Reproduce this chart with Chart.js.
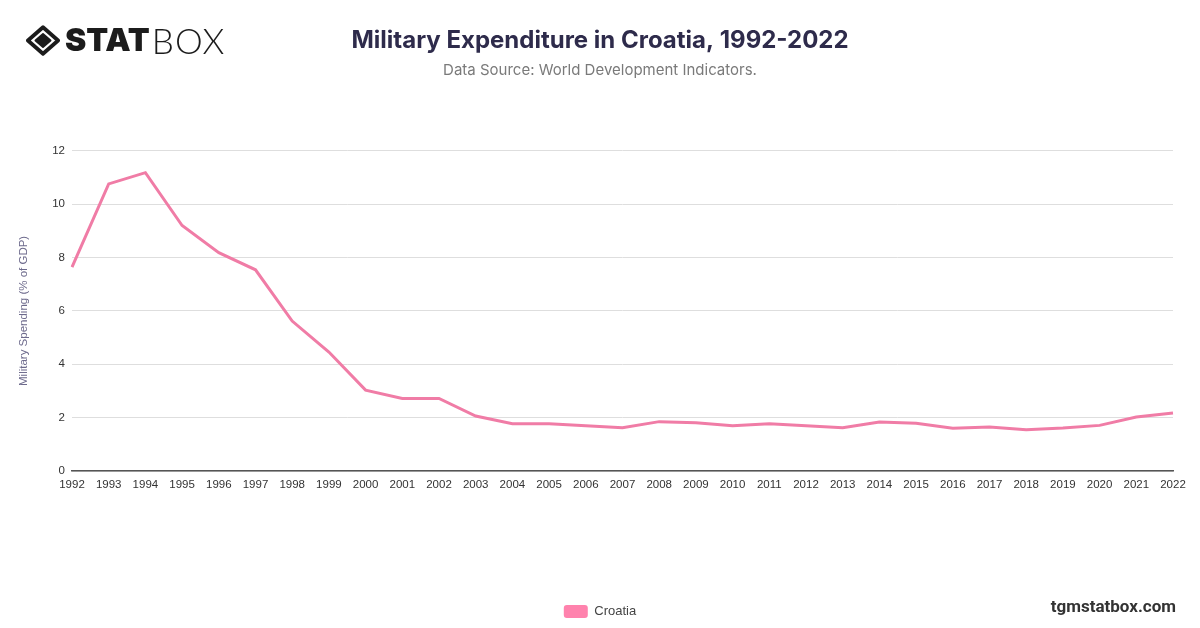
<!DOCTYPE html>
<html>
<head>
<meta charset="utf-8">
<script src="https://cdn.jsdelivr.net/npm/chart.js@4.4.1/dist/chart.umd.min.js"></script>
<style>
  html, body { margin: 0; padding: 0; background: #fff; }
  #wrap { position: relative; width: 1200px; height: 628px; }
  #logo { position: absolute; left: 26px; top: 23px; display: flex; align-items: center; }
  #logo .stat { font-family: Inter, "DejaVu Sans", sans-serif; font-weight: 900; font-size: 32px; color: #1c1c1c; margin-left: 5px; line-height: 34px; }
  #logo .box { font-family: Lato, "Open Sans", sans-serif; font-weight: 300; font-size: 35px; letter-spacing: 1px; color: #1c1c1c; line-height: 34px; margin-left: 2px; }
  #site { position: absolute; right: 24px; top: 596px; font-family: Roboto, Arial, sans-serif; font-weight: 700; font-size: 17px; color: #333; }
</style>
</head>
<body>
<div id="wrap">
  <canvas id="chart" width="1200" height="628"></canvas>
  <div id="logo">
    <svg width="34" height="31" viewBox="0 0 36 32">
      <path d="M18 2 L34 16 L18 30 L2 16 Z" fill="none" stroke="#1c1c1c" stroke-width="4" stroke-linejoin="round"/>
      <path d="M18 9 L26 16 L18 23 L10 16 Z" fill="#1c1c1c" stroke="#1c1c1c" stroke-width="2" stroke-linejoin="round"/>
    </svg>
    <span class="stat">STAT</span><span class="box">BOX</span>
  </div>
  <div id="site">tgmstatbox.com</div>
</div>
<script>
const years = [
  '1992', '1993', '1994', '1995', '1996', '1997', '1998', '1999', '2000', '2001',
  '2002', '2003', '2004', '2005', '2006', '2007', '2008', '2009', '2010', '2011',
  '2012', '2013', '2014', '2015', '2016', '2017', '2018', '2019', '2020', '2021', '2022'
];

// Military spending, % of GDP
const croatia = [
  7.64, 10.76, 11.18, 9.20, 8.18, 7.54, 5.62, 4.46, 3.03, 2.72,
  2.72, 2.06, 1.77, 1.77, 1.70, 1.62, 1.85, 1.81, 1.70, 1.77,
  1.70, 1.62, 1.84, 1.79, 1.60, 1.65, 1.55, 1.61, 1.71, 2.02, 2.17
];

const yTicks = [0, 2, 4, 6, 8, 10, 12];

const LINE_COLOR = '#f07ca6';
const LEGEND_COLOR = '#ff82ad';
const TICK_FONT = 'Helvetica, Arial, "Liberation Sans", sans-serif';

const ctx = document.getElementById('chart').getContext('2d');

new Chart(ctx, {
  type: 'line',
  data: {
    labels: years,
    datasets: [{
      label: 'Croatia',
      data: croatia,
      borderColor: LINE_COLOR,
      backgroundColor: LEGEND_COLOR,
      borderWidth: 3,
      pointRadius: 0,
      tension: 0
    }]
  },
  options: {
    responsive: false,
    animation: false,
    layout: {
      padding: { left: 0, right: 0, top: 0, bottom: 0 }
    },
    plugins: {
      title: {
        display: true,
        text: 'Military Expenditure in Croatia, 1992-2022',
        color: '#2e2b4b',
        font: { family: 'Inter, "Open Sans", sans-serif', size: 24, weight: 'bold' },
        padding: { top: 26, bottom: 7 }
      },
      subtitle: {
        display: true,
        text: 'Data Source: World Development Indicators.',
        color: '#7a7a7a',
        font: { family: 'Inter, "Open Sans", sans-serif', size: 15 },
        padding: { top: 0, bottom: 71 }
      },
      legend: {
        position: 'bottom',
        labels: {
          color: '#444',
          font: { family: TICK_FONT, size: 13 },
          boxWidth: 24,
          boxHeight: 13,
          useBorderRadius: true,
          borderRadius: 3,
          padding: 10,
          generateLabels: (chart) => {
            const items = Chart.defaults.plugins.legend.labels.generateLabels(chart);
            items.forEach(it => { it.lineWidth = 0; it.strokeStyle = LEGEND_COLOR; });
            return items;
          }
        }
      },
      tooltip: { enabled: false }
    },
    scales: {
      x: {
        offset: false,
        grid: { display: false, drawTicks: false },
        border: { display: true, color: '#555', width: 1.5 },
        ticks: {
          color: '#333',
          font: { family: TICK_FONT, size: 11.5 },
          padding: 7,
          maxRotation: 0,
          autoSkip: false
        },
        afterFit: (scale) => {
          scale.height = 124;
          scale.paddingRight = 27;
        }
      },
      y: {
        min: 0,
        max: 12,
        afterBuildTicks: (scale) => { scale.ticks = yTicks.map(v => ({ value: v })); },
        grid: { color: '#dedede', drawTicks: false },
        border: { display: false },
        ticks: {
          color: '#333',
          font: { family: TICK_FONT, size: 11.5 },
          padding: 7
        },
        title: {
          display: true,
          text: 'Military Spending (% of GDP)',
          color: '#6d6a8c',
          font: { family: TICK_FONT, size: 11.5 },
          padding: { top: 17, bottom: 4 }
        },
        afterFit: (scale) => { scale.width = 72; }
      }
    }
  }
});
</script>
</body>
</html>
